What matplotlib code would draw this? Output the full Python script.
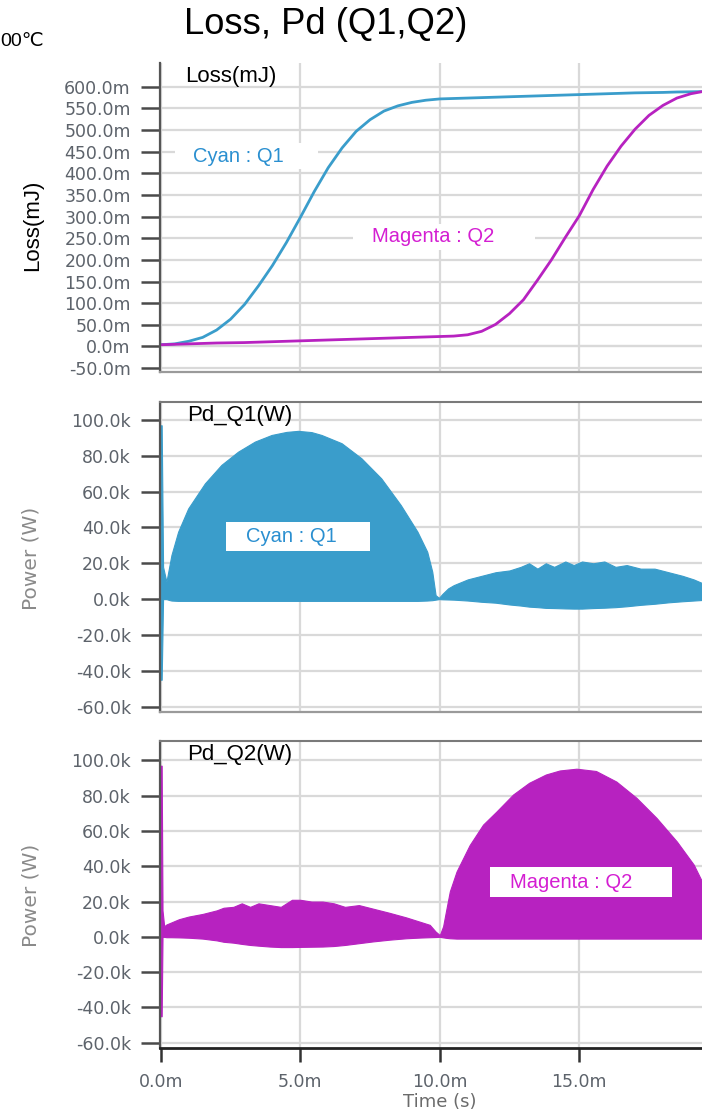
import numpy as np
import matplotlib
matplotlib.use("Agg")
import matplotlib.pyplot as plt
from matplotlib.patches import Rectangle
from matplotlib.ticker import FixedLocator, FuncFormatter

plt.rcParams['font.family'] = ['Liberation Sans', 'DejaVu Sans']

# ---- data (time in ms) ----
# Loss curves (mJ), sampled every 0.5 ms
loss_t = [0.0, 0.5, 1.0, 1.5, 2.0, 2.5, 3.0, 3.5, 4.0, 4.5,
          5.0, 5.5, 6.0, 6.5, 7.0, 7.5, 8.0, 8.5, 9.0, 9.5,
          10.0, 10.5, 11.0, 11.5, 12.0, 12.5, 13.0, 13.5, 14.0, 14.5,
          15.0, 15.5, 16.0, 16.5, 17.0, 17.5, 18.0, 18.5, 19.0, 19.5]
loss_q1 = [4, 6, 12, 21, 38, 63, 97, 140, 187, 240,
           298, 358, 413, 459, 497, 524, 544, 556, 564, 569,
           572, 573, 574, 575, 576, 577, 578, 579, 580, 581,
           582, 583, 584, 585, 586, 586.5, 587, 588, 588.5, 589]
loss_q2 = [4, 5, 6, 7, 8, 8.5, 9, 10, 11, 12,
           13, 14, 15, 16, 17, 18, 19, 20, 21, 22,
           23, 24, 27, 35, 51, 76, 108, 153, 200, 252,
           302, 363, 417, 463, 502, 534, 557, 574, 584, 590]

# Pd_Q1 envelope (kW)
pd1_t = [0.0, 0.03, 0.08, 0.2, 0.3, 0.38, 0.62, 0.98, 1.58, 2.17,
         2.77, 3.37, 3.97, 4.5, 4.92, 5.4, 5.76, 6.48, 7.19, 7.9,
         8.6, 9.2, 9.55, 9.73, 9.85, 9.97, 10.1, 10.3, 10.5, 11.0,
         11.5, 12.0, 12.5, 12.9, 13.2, 13.5, 13.8, 14.1, 14.5, 14.8,
         15.1, 15.5, 15.9, 16.3, 16.7, 17.2, 17.7, 18.2, 18.7, 19.1, 19.4]
pd1_hi = [97, 97, 18, 9.7, 18, 24.6, 37.6, 50.6, 64.6, 74.9,
          82.3, 87.9, 91.6, 93.3, 93.9, 93.2, 91.6, 87, 78.6, 67.4,
          52.5, 37.6, 26.4, 15.3, 2.2, 0.7, 3, 6, 7.8, 11,
          13, 15, 16, 18, 20, 17, 20, 18, 21, 19,
          21, 20, 21, 18, 19, 17, 17, 15, 13, 11, 9]
pd1_lo = [-45, -45, 0, 0, -0.5, -0.8, -1, -1, -1, -1,
          -1, -1, -1, -1, -1, -1, -1, -1, -1, -1,
          -1, -1, -0.8, -0.6, -0.3, 0, -0.1, -0.2, -0.3, -0.8,
          -1.5, -2, -3, -3.6, -4.2, -4.5, -4.9, -5, -5.2, -5.3,
          -5.3, -5, -4.8, -4.5, -4, -3.2, -2.6, -1.8, -1.2, -0.8, -0.5]

# Pd_Q2 envelope (kW)
pd2_t = [0.0, 0.03, 0.06, 0.12, 0.2, 0.35, 0.65, 1.0, 1.5, 2.0,
         2.25, 2.6, 2.9, 3.2, 3.5, 3.9, 4.3, 4.7, 5.0, 5.4,
         5.8, 6.2, 6.6, 7.1, 7.6, 8.2, 8.8, 9.3, 9.64, 9.85,
         10.0, 10.12, 10.24, 10.36, 10.6, 11.07, 11.55, 12.03, 12.63, 13.2,
         13.8, 14.3, 14.9, 15.6, 16.33, 17.05, 17.77, 18.5, 19.1, 19.4]
pd2_hi = [97, 97, 15, 6, 7, 8, 10, 11.5, 13, 15,
          16.5, 17, 19, 17, 19, 18, 17, 21, 21, 20,
          20, 19, 17, 18, 16, 13.6, 11, 8.5, 6.8, 3,
          1, 6, 16, 25.8, 37, 52, 63.6, 71, 80.7, 87.3,
          92, 94.3, 95.3, 94, 88, 78.8, 67.4, 54, 41, 31.4]
pd2_lo = [-45, -45, 0, 0, -0.2, -0.2, -0.3, -0.5, -1, -2,
          -2.8, -3.3, -4, -4.6, -5, -5.5, -5.8, -5.8, -5.7, -5.6,
          -5.5, -5.2, -4.6, -3.6, -2.6, -1.6, -0.8, -0.4, -0.2, -0.1,
          0, -0.3, -0.6, -0.8, -1, -1, -1, -1, -1, -1,
          -1, -1, -1, -1, -1, -1, -1, -1, -1, -1]

loss_ticks = [-50, 0, 50, 100, 150, 200, 250, 300, 350, 400, 450, 500, 550, 600]
pd_ticks = [-60, -40, -20, 0, 20, 40, 60, 80, 100]
time_ticks = [0, 5, 10, 15]

CYAN = '#3a9dcb'
MAGENTA = '#b722c0'
CYAN_TXT = '#2a8fd0'
MAG_TXT = '#d41ed2'
GRID = '#d9d9d9'
TICKLBL = '#5d636b'
TICKFONT = ['DejaVu Sans']

W, H = 702, 1115
fig = plt.figure(figsize=(W / 100, H / 100), dpi=100)


def px_axes(x0, y0, x1, y1):
    return fig.add_axes([x0 / W, 1 - y1 / H, (x1 - x0) / W, (y1 - y0) / H])


def px_box(x0, y0, x1, y1):
    r = Rectangle((x0 / W, 1 - y1 / H), (x1 - x0) / W, (y1 - y0) / H,
                  transform=fig.transFigure, facecolor='white', edgecolor='none', zorder=5)
    fig.patches.append(r)


def style(ax, yticks, fmt, ylim, top_spine=True, show_x=False):
    ax.set_xlim(-0.03, 19.4)
    ax.set_ylim(*ylim)
    ax.yaxis.set_major_locator(FixedLocator(yticks))
    ax.yaxis.set_major_formatter(FuncFormatter(fmt))
    ax.xaxis.set_major_locator(FixedLocator(time_ticks))
    ax.grid(True, color=GRID, lw=1.6)
    ax.set_axisbelow(True)
    ax.tick_params(axis='y', length=14, width=1.8, color='#4a4a4a', pad=7,
                   labelsize=12.5, labelcolor=TICKLBL)
    for lbl in ax.get_yticklabels():
        lbl.set_family(TICKFONT)
    ax.spines['right'].set_visible(False)
    ax.spines['left'].set_color('#555555')
    ax.spines['left'].set_linewidth(1.6)
    ax.spines['bottom'].set_color('#9a9a9a')
    ax.spines['bottom'].set_linewidth(1.6)
    ax.spines['top'].set_visible(top_spine)
    ax.spines['top'].set_color('#7a7a7a')
    ax.spines['top'].set_linewidth(1.5)
    if show_x:
        ax.tick_params(axis='x', length=10, width=1.8, color='#333333', pad=8,
                       labelsize=12.5, labelcolor=TICKLBL)
        ax.xaxis.set_major_formatter(FuncFormatter(lambda v, p: f"{v:.1f}m"))
        for lbl in ax.get_xticklabels():
            lbl.set_family(TICKFONT)
    else:
        ax.tick_params(axis='x', length=0, labelbottom=False)


# ---- top panel: loss ----
ax1 = px_axes(160, 63, 702, 372)
ax1.plot(loss_t, loss_q1, color=CYAN, lw=2)
ax1.plot(loss_t, loss_q2, color=MAGENTA, lw=2)
style(ax1, loss_ticks, lambda v, p: f"{v:.1f}m", (-59, 655), top_spine=False)
ax1.axhline(0, color='#a8a8a8', lw=1.5, zorder=0.5)
ax1.text(0.046, 0.955, 'Loss(mJ)', transform=ax1.transAxes,
         fontsize=16, color='black', va='center', ha='left')

# ---- middle panel: Pd_Q1 ----
ax2 = px_axes(160, 402, 702, 712)
ax2.fill_between(pd1_t, pd1_lo, pd1_hi, color=CYAN, lw=0.8)
style(ax2, pd_ticks, lambda v, p: f"{v:.1f}k", (-63, 110))
ax2.text(0.05, 0.955, 'Pd_Q1(W)', transform=ax2.transAxes,
         fontsize=16, color='black', va='center', ha='left')

# ---- bottom panel: Pd_Q2 ----
ax3 = px_axes(160, 741, 702, 1048)
ax3.fill_between(pd2_t, pd2_lo, pd2_hi, color=MAGENTA, lw=0.8)
style(ax3, pd_ticks, lambda v, p: f"{v:.1f}k", (-63, 111), show_x=True)
ax3.spines['bottom'].set_color('#222222')
ax3.spines['bottom'].set_linewidth(2)
ax3.text(0.05, 0.955, 'Pd_Q2(W)', transform=ax3.transAxes,
         fontsize=16, color='black', va='center', ha='left')

# ---- labels in white boxes ----
px_box(175, 143, 318, 169)
fig.text(193 / W, 1 - 156 / H, 'Cyan : Q1', color=CYAN_TXT, fontsize=14.5,
         va='center', ha='left', zorder=6)
px_box(353, 224, 535, 250)
fig.text(372 / W, 1 - 237 / H, 'Magenta : Q2', color=MAG_TXT, fontsize=14.5,
         va='center', ha='left', zorder=6)
px_box(226, 522, 370, 551)
fig.text(246 / W, 1 - 537 / H, 'Cyan : Q1', color=CYAN_TXT, fontsize=14.5,
         va='center', ha='left', zorder=6)
px_box(490, 867, 672, 897)
fig.text(510 / W, 1 - 882 / H, 'Magenta : Q2', color=MAG_TXT, fontsize=14.5,
         va='center', ha='left', zorder=6)

# ---- titles / axis labels ----
fig.text(326 / W, 1 - 25 / H, 'Loss, Pd (Q1,Q2)', fontsize=26.2,
         ha='center', va='center', color='black')
fig.text(0, 1 - 42 / H, '00℃', fontsize=14, ha='left', va='center', color='black')
fig.text(33 / W, 1 - 225 / H, 'Loss(mJ)', fontsize=16, rotation=90,
         ha='center', va='center', color='black')
fig.text(31 / W, 1 - 558 / H, 'Power (W)', fontsize=14.5, rotation=90,
         ha='center', va='center', color='#8a8a8a', family=TICKFONT)
fig.text(31 / W, 1 - 895 / H, 'Power (W)', fontsize=14.5, rotation=90,
         ha='center', va='center', color='#8a8a8a', family=TICKFONT)
fig.text(440 / W, 1 - 1102 / H, 'Time (s)', fontsize=13,
         ha='center', va='center', color='#6b6b6b', family=TICKFONT)

fig.savefig('out.png', dpi=100)
